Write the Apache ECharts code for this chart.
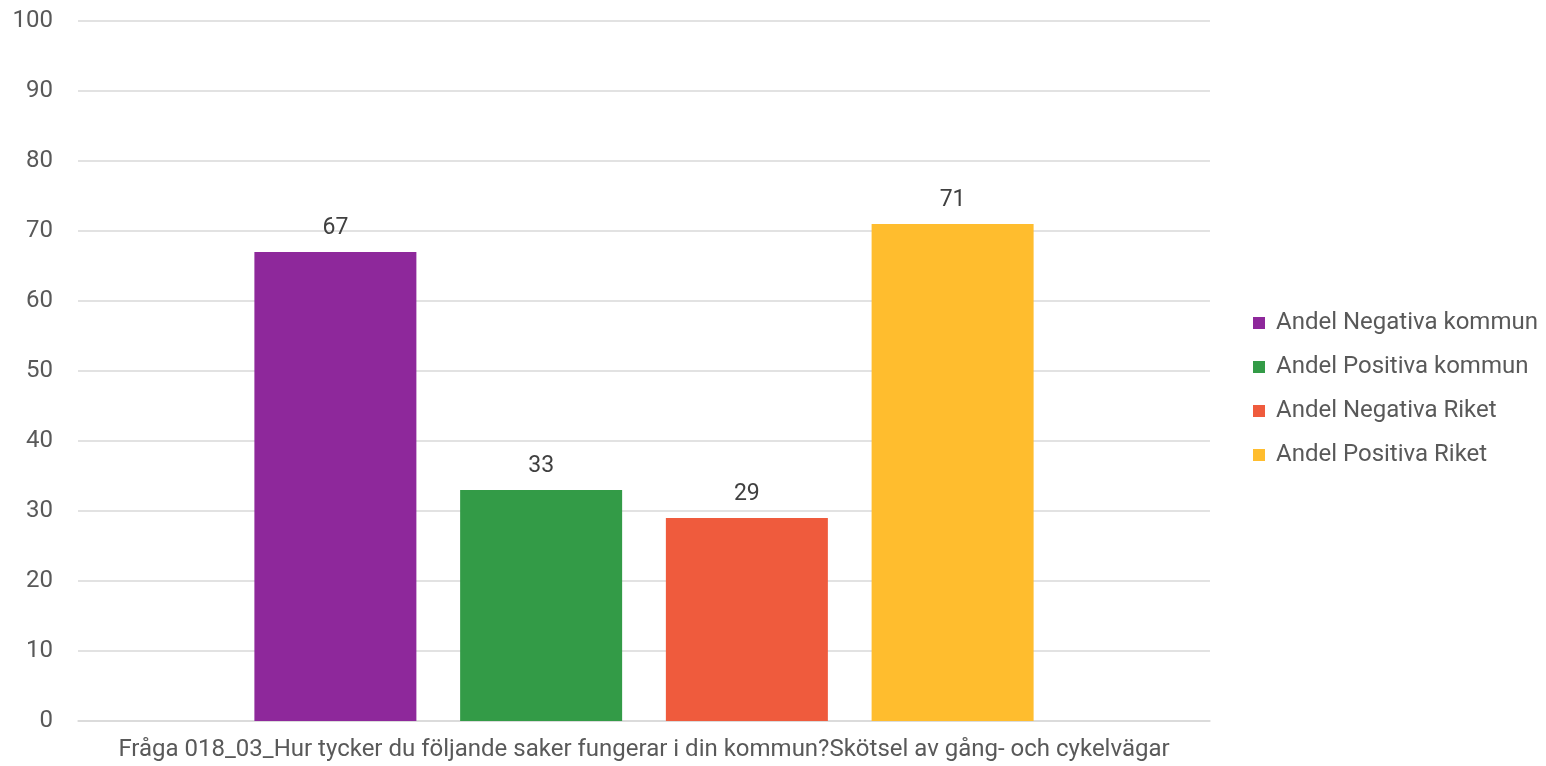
<!DOCTYPE html>
<html>
<head>
<meta charset="utf-8">
<script src="https://cdn.jsdelivr.net/npm/echarts@6/dist/echarts.min.js"></script>
<style>
  html, body { margin: 0; padding: 0; background: #fff; }
  #chart { width: 1546px; height: 766px; }
</style>
</head>
<body>
<div id="chart"></div>
<script>
const categories = ['Fråga 018_03_Hur tycker du följande saker fungerar i din kommun?Skötsel av gång- och cykelvägar']
const seriesNames = ['Andel Negativa kommun', 'Andel Positiva kommun', 'Andel Negativa Riket', 'Andel Positiva Riket']
const seriesValues = [[67], [33], [29], [71]]
const colors = ['#8E289B', '#339B47', '#EF5B3D', '#FFBD2E']

const chart = echarts.init(document.getElementById('chart'))

const series = seriesNames.map((name, i) => ({
  name,
  type: 'bar',
  data: seriesValues[i],
  barWidth: 162,
  barGap: '27%',
  itemStyle: { color: colors[i] },
  label: {
    show: true,
    position: 'top',
    distance: 12,
    color: '#404040',
    fontSize: 23,
    fontFamily: 'Roboto',
  },
}))

chart.setOption({
  animation: false,
  textStyle: { fontFamily: 'Roboto' },
  grid: { left: 78, right: 336, top: 21, bottom: 45 },
  legend: {
    orient: 'vertical',
    left: 1248,
    top: 306,
    itemWidth: 12,
    itemHeight: 12,
    itemGap: 20,
    icon: 'rect',
    data: seriesNames,
    textStyle: { color: '#595959', fontSize: 24, fontFamily: 'Roboto', lineHeight: 24, padding: [0, 0, 0, 6] },
  },
  xAxis: {
    type: 'category',
    data: categories,
    axisTick: { show: false },
    axisLine: { lineStyle: { color: '#d9d9d9', width: 1.5 } },
    axisLabel: { color: '#595959', fontSize: 24, margin: 17, fontFamily: 'Roboto' },
  },
  yAxis: {
    type: 'value',
    min: 0,
    max: 100,
    interval: 10,
    axisLine: { show: false },
    axisTick: { show: false },
    axisLabel: { color: '#595959', fontSize: 24, margin: 25, fontFamily: 'Roboto' },
    splitLine: { lineStyle: { color: '#d9d9d9', width: 1.5 } },
  },
  series,
})
</script>
</body>
</html>
